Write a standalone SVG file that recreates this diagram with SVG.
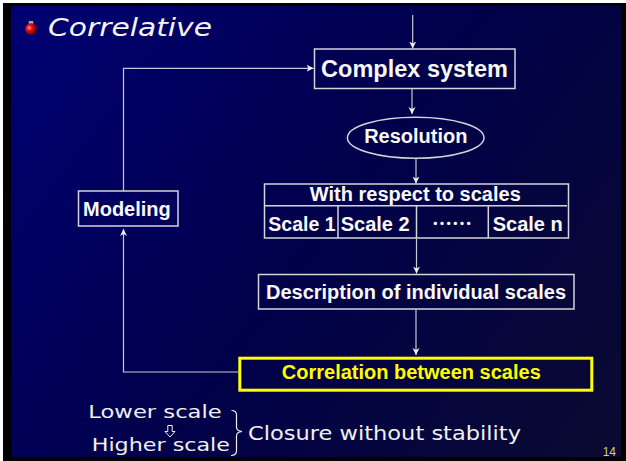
<svg xmlns="http://www.w3.org/2000/svg" width="626" height="461" viewBox="0 0 626 461">
<defs>
<linearGradient id="bg" gradientUnits="userSpaceOnUse" x1="11" y1="6" x2="621" y2="457">
<stop offset="0" stop-color="#000074"/>
<stop offset="0.5" stop-color="#00004a"/>
<stop offset="1" stop-color="#0a0a30"/>
</linearGradient>
<radialGradient id="ball" cx="0.35" cy="0.4" r="0.7">
<stop offset="0" stop-color="#ff9a8a"/>
<stop offset="0.35" stop-color="#e01010"/>
<stop offset="1" stop-color="#600000"/>
</radialGradient>
<marker id="ah" markerUnits="userSpaceOnUse" markerWidth="8" markerHeight="8" refX="7" refY="3.5" orient="auto">
<path d="M0,0 L7,3.5 L0,7 L2,3.5 z" fill="#f0f0f0"/>
</marker>
</defs>
<style>
.box{fill:none;stroke:#d4d4dc;stroke-width:1.5}
.conn{fill:none;stroke:#c8c8d4;stroke-width:1.2}
.lbl{font-family:"Liberation Sans",Arial,sans-serif;font-weight:bold;fill:#f8f8f8}
.note{font-family:"DejaVu Sans",sans-serif;fill:#f0f0f0}
</style>
<rect x="0" y="0" width="626" height="461" fill="#ffffff"/>
<rect x="3" y="3" width="623" height="458" fill="#000000"/>
<rect x="11" y="6" width="610" height="451" fill="url(#bg)"/>

<g id="title">
<rect x="28.8" y="21" width="4.4" height="3" fill="#a8a8a8"/>
<circle cx="31" cy="29" r="5.8" fill="url(#ball)"/>
<text x="48" y="36" font-family="DejaVu Sans,sans-serif" font-style="italic" font-size="25.5" fill="#f4f4f4" textLength="164" lengthAdjust="spacingAndGlyphs">Correlative</text>
</g>

<g id="connectors">
<path class="conn" d="M412.7,15 V48.5" marker-end="url(#ah)"/>
<path class="conn" d="M412,88.5 V114" marker-end="url(#ah)"/>
<path class="conn" d="M416,158.5 V183.5" marker-end="url(#ah)"/>
<path class="conn" d="M416.5,238.5 V273.5" marker-end="url(#ah)"/>
<path class="conn" d="M416,309.5 V355" marker-end="url(#ah)"/>
<path class="conn" d="M238,372 H123.5 V229" marker-end="url(#ah)"/>
<path class="conn" d="M123.5,191 V68.3 H313.5" marker-end="url(#ah)"/>
</g>

<g id="node-complex-system">
<rect class="box" x="314.5" y="49" width="200.5" height="39.5"/>
<text class="lbl" x="414.5" y="77" font-size="23.5" text-anchor="middle">Complex system</text>
</g>

<g id="node-resolution">
<ellipse class="box" cx="415.7" cy="137.8" rx="68.3" ry="20.5"/>
<text class="lbl" x="415.8" y="142.7" font-size="20" text-anchor="middle">Resolution</text>
</g>

<g id="node-scales">
<rect class="box" x="264.5" y="184" width="304" height="54"/>
<path class="box" d="M264.5,205.7 H567 M338,205.7 V238 M416.5,205.7 V238 M488.3,205.7 V238"/>
<text class="lbl" x="415.3" y="200.7" font-size="20" text-anchor="middle">With respect to scales</text>
<text class="lbl" x="268.3" y="231" font-size="19.5">Scale 1</text>
<text class="lbl" x="340.7" y="231" font-size="20">Scale 2</text>
<text class="lbl" x="452" y="231" font-size="20" text-anchor="middle" style="font-family:'Noto Sans CJK SC','Liberation Sans',sans-serif">……</text>
<text class="lbl" x="492.7" y="231" font-size="20">Scale n</text>
</g>

<g id="node-modeling">
<rect class="box" x="78.5" y="191" width="99.5" height="35"/>
<text class="lbl" x="83" y="216" font-size="20">Modeling</text>
</g>

<g id="node-description">
<rect class="box" x="258.5" y="274.5" width="315.5" height="34.5"/>
<text class="lbl" x="416" y="299.3" font-size="20" text-anchor="middle">Description of individual scales</text>
</g>

<g id="node-correlation">
<rect x="239.8" y="358.2" width="352" height="32" fill="none" stroke="#ffff00" stroke-width="3"/>
<text class="lbl" x="411.3" y="379.3" font-size="20" text-anchor="middle" style="fill:#ffff00">Correlation between scales</text>
</g>

<g id="note">
<text class="note" x="88.3" y="417.7" font-size="17.5" textLength="133.4" lengthAdjust="spacingAndGlyphs">Lower scale</text>
<path d="M167.8,425.5 H172.2 V431.5 H175 L170,437 L165,431.5 H167.8 Z" fill="none" stroke="#f0f0f0" stroke-width="1"/>
<text class="note" x="91.7" y="451" font-size="17.5" textLength="138.3" lengthAdjust="spacingAndGlyphs">Higher scale</text>
<path d="M231.5,410.5 Q236.5,410.5 236.5,415 V427 Q236.5,431 242,431.5 Q236.5,432 236.5,436 V450.5 Q236.5,455.5 231,455.5" fill="none" stroke="#f0f0f0" stroke-width="1.2"/>
<text class="note" x="248" y="440" font-size="19" textLength="273" lengthAdjust="spacingAndGlyphs">Closure without stability</text>
</g>

<text x="616" y="456" font-family="Liberation Sans Narrow,Liberation Sans,sans-serif" font-size="12" fill="#d2d27a" text-anchor="end">14</text>
</svg>
